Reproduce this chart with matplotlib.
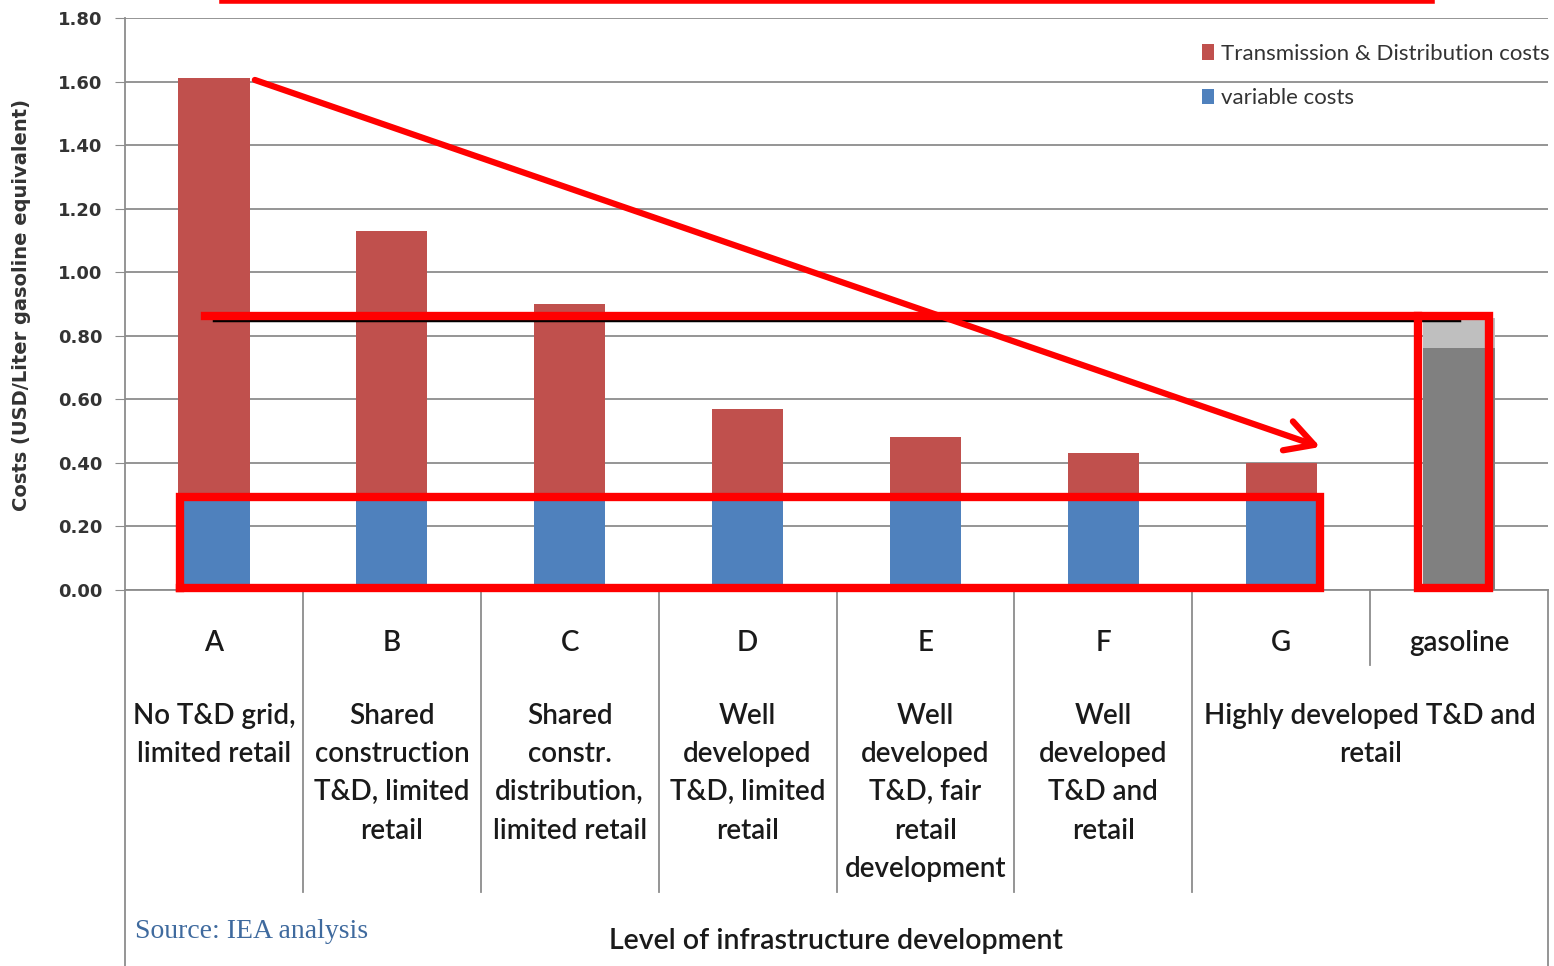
import matplotlib.pyplot as plt
import matplotlib.transforms as mtransforms
from matplotlib.lines import Line2D
import numpy as np

# data
letters = ["A", "B", "C", "D", "E", "F", "G", "gasoline"]
descriptions = ["No T&D grid,\nlimited retail",
                "Shared\nconstruction\nT&D, limited\nretail",
                "Shared\nconstr.\ndistribution,\nlimited retail",
                "Well\ndeveloped\nT&D, limited\nretail",
                "Well\ndeveloped\nT&D, fair\nretail\ndevelopment",
                "Well\ndeveloped\nT&D and\nretail"]
desc_g = "Highly developed T&D and\nretail"
variable_costs = [0.28, 0.28, 0.28, 0.28, 0.28, 0.28, 0.28]
td_costs = [1.33, 0.85, 0.62, 0.29, 0.20, 0.15, 0.12]
gasoline_base = 0.76
gasoline_top = 0.095
gasoline_ref = 0.85
yticks = [0.0, 0.2, 0.4, 0.6, 0.8, 1.0, 1.2, 1.4, 1.6, 1.8]

RED_BAR = "#C0504D"
BLUE_BAR = "#4F81BD"
GRID = "#8c8c8c"
TXT = "#1a1a1a"
plt.rcParams['font.family'] = ['Lato', 'DejaVu Sans']

fig = plt.figure(figsize=(15.54, 9.66), dpi=100)
ax = fig.add_axes([125 / 1554, 1 - 590 / 966, 1423 / 1554, 572 / 966])

x = np.arange(len(variable_costs))
w = 0.4
b_var = ax.bar(x, variable_costs, w, color=BLUE_BAR, zorder=2, label="variable costs")
b_td = ax.bar(x, td_costs, w, bottom=variable_costs, color=RED_BAR, zorder=2,
              label="Transmission & Distribution costs")
ax.bar(7, gasoline_base, w, color="#808080", zorder=2)
ax.bar(7, gasoline_top, w, bottom=gasoline_base, color="#BFBFBF", zorder=2)

ax.set_xlim(-0.5, 7.5)
ax.set_ylim(0, 1.8)
ax.set_yticks(yticks)
ax.set_yticklabels([f"{v:.2f}" for v in yticks], fontsize=13, fontweight="bold",
                   color="#333333", family="DejaVu Sans")
ax.set_xticks([])
ax.tick_params(axis="y", length=7, color=GRID, pad=9)
ax.yaxis.grid(True, color=GRID, lw=1.3, zorder=0)
ax.set_axisbelow(True)
for s in ["top", "right"]:
    ax.spines[s].set_visible(False)
ax.spines["left"].set_color(GRID)
ax.spines["bottom"].set_color(GRID)
ax.spines["left"].set_linewidth(1.3)
ax.spines["bottom"].set_linewidth(1.3)
fig.text(22 / 1554, 1 - 305 / 966, "Costs (USD/Liter gasoline equivalent)", rotation=90,
         ha="center", va="center", fontsize=14, fontweight="bold", color="#333333",
         family="DejaVu Sans")

leg = ax.legend(handles=[b_td, b_var], loc="upper left",
                bbox_to_anchor=(1202 / 1423 - 125 / 1423, 1 - 44 / 572 + 18 / 572),
                frameon=False, fontsize=16, handlelength=0.55, handleheight=0.7,
                handletextpad=0.3, labelspacing=1.1, borderaxespad=0, borderpad=0)
for t in leg.get_texts():
    t.set_color("#333333")

# category table below the plot
def ypx(p):
    return (590 - p) / 572

trans = mtransforms.blended_transform_factory(ax.transData, ax.transAxes)
for i, lt in enumerate(letters):
    ax.text(i, ypx(643), lt, transform=trans, ha="center", va="center",
            fontsize=20, color=TXT, fontweight="semibold")
for i, d in enumerate(descriptions):
    ax.text(i, ypx(703), d, transform=trans, ha="center", va="top",
            fontsize=20, color=TXT, linespacing=1.58, fontweight="semibold")
ax.text(6.5, ypx(703), desc_g, transform=trans, ha="center", va="top",
        fontsize=20, color=TXT, linespacing=1.58, fontweight="semibold")

for b in np.arange(0.5, 6.0, 1.0):
    ax.add_line(Line2D([b, b], [0, ypx(892)], transform=trans, color=GRID,
                       lw=1.3, clip_on=False))
ax.add_line(Line2D([6.5, 6.5], [0, ypx(665)], transform=trans, color=GRID, lw=1.3, clip_on=False))
ax.add_line(Line2D([-0.5, -0.5], [0, ypx(966)], transform=trans, color=GRID, lw=1.3, clip_on=False))
ax.add_line(Line2D([7.5, 7.5], [0, ypx(966)], transform=trans, color=GRID, lw=1.3, clip_on=False))

fig.text(836 / 1554, 1 - 941 / 966, "Level of infrastructure development", ha="center",
         va="center", fontsize=20.5, color=TXT, fontweight="semibold")
fig.text(135 / 1554, 1 - 932 / 966, "Source: IEA analysis", ha="left", va="center",
         fontsize=20, color="#3F6A9E", family="Liberation Serif")

# annotations
ax.plot([0.0, 7.0], [gasoline_ref, gasoline_ref], color="black", lw=2.5, zorder=3)
RED = "#FF0000"
ax.plot([-0.19, 6.22, 6.22, -0.19, -0.19], [0.006, 0.006, 0.293, 0.293, 0.006],
        color=RED, lw=6, zorder=4, solid_joinstyle="miter", clip_on=False)
ax.plot([-0.05, 7.17, 7.17, 6.77, 6.77], [0.862, 0.862, 0.006, 0.006, 0.862],
        color=RED, lw=6, zorder=4, solid_joinstyle="miter", clip_on=False)
ax.annotate("", xy=(6.22, 0.45), xytext=(0.23, 1.605),
            arrowprops=dict(arrowstyle="->,head_length=1.0,head_width=0.55", color=RED,
                            lw=4.5, mutation_scale=20, shrinkA=0, shrinkB=0), zorder=5)
fig.add_artist(Line2D([222 / 1554, 1432 / 1554], [1 - 1 / 966, 1 - 1 / 966],
                      transform=fig.transFigure, color=RED, lw=4))

fig.savefig("out.png", dpi=100)
